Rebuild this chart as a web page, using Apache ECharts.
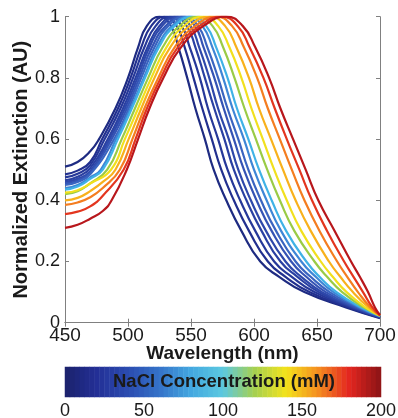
<!DOCTYPE html>
<html>
<head>
<meta charset="utf-8">
<script src="https://cdn.jsdelivr.net/npm/echarts@6/dist/echarts.min.js"></script>
<style>
html,body{margin:0;padding:0;background:#fff;}
#chart{width:398px;height:418px;}
</style>
</head>
<body>
<div id="chart"></div>
<script>
// Wavelength axis and extinction ticks
const wavelengthTicks = [450, 500, 550, 600, 650, 700];
const extinctionTicks = [0, 0.2, 0.4, 0.6, 0.8, 1];
const concentrationTicks = [0, 50, 100, 150, 200];

// Spectra: [wavelength (nm), normalized extinction], increasing NaCl concentration
const c0 = [[450,.51],[460,.525],[470,.56],[477,.6],[490,.7],[500,.8],[508,.9],[515,.97],[525,1],[534,.97],[540,.9],[547,.8],[553.5,.7],[561,.6],[568,.5],[578,.4],[590,.3],[605,.2],[620,.15],[640,.1],[673,.05],[700,.015]];
const c1 = [[450,.485],[460,.497],[470,.525],[479.5,.6],[492,.7],[502,.8],[510.5,.9],[518.5,.97],[529,1],[538.5,.97],[545,.9],[552,.8],[559,.7],[566.5,.6],[574,.5],[584,.4],[596,.3],[611,.2],[625,.15],[644,.1],[675,.05],[700,.016]];
const c2 = [[450,.475],[460,.487],[470,.515],[481.5,.6],[494,.7],[504,.8],[513,.9],[522,.97],[533,1],[542.5,.97],[549,.9],[557,.8],[563.5,.7],[571.5,.6],[579,.5],[589,.4],[601,.3],[616,.2],[630,.15],[648,.1],[677,.05],[700,.017]];
const c3 = [[450,.465],[460,.477],[470,.505],[484,.6],[496,.7],[506,.8],[515.5,.9],[525,.97],[536.5,1],[546.5,.97],[553.5,.9],[561,.8],[568.5,.7],[576.5,.6],[584,.5],[594,.4],[606,.3],[621,.2],[634.5,.15],[651.5,.1],[678.5,.05],[700,.018]];
const c4 = [[450,.46],[460,.47],[470,.495],[485.5,.6],[497.5,.7],[507.5,.8],[517,.9],[527,.97],[539.5,1],[549.5,.97],[556.5,.9],[564.5,.8],[571.5,.7],[580,.6],[587.5,.5],[597.5,.4],[609.5,.3],[625,.2],[637.5,.15],[654,.1],[679.5,.05],[700,.019]];
const c5 = [[450,.455],[460,.465],[470,.49],[487,.6],[499,.7],[509,.8],[519,.9],[530,.97],[542.5,1],[553,.97],[560,.9],[568.5,.8],[576,.7],[584,.6],[592,.5],[602,.4],[614,.3],[629.5,.2],[641.5,.15],[657,.1],[681,.05],[700,.02]];
const c6 = [[450,.45],[460,.46],[470,.485],[489,.6],[500.5,.7],[510.5,.8],[521,.9],[532,.97],[545,1],[555.5,.97],[563,.9],[571.5,.8],[579,.7],[587.5,.6],[595.5,.5],[605.5,.4],[617.5,.3],[633,.2],[645,.15],[660,.1],[682.5,.05],[700,.021]];
const c7 = [[450,.44],[460,.45],[470,.475],[478.5,.5],[490.5,.6],[502,.7],[512.5,.8],[523,.9],[535,.97],[548.5,1],[559,.97],[567,.9],[575.5,.8],[583,.7],[592,.6],[600,.5],[610,.4],[621.5,.3],[637.5,.2],[649,.15],[663,.1],[684,.05],[700,.022]];
const c8 = [[450,.435],[460,.445],[470,.47],[480,.5],[492,.6],[503,.7],[513.5,.8],[524.5,.9],[537,.97],[551,1],[562,.97],[570,.9],[579,.8],[586.5,.7],[595.5,.6],[604,.5],[614,.4],[625.5,.3],[641.5,.2],[652,.15],[665.5,.1],[685,.05],[700,.022]];
const c9 = [[450,.42],[460,.43],[470,.455],[483.5,.5],[495,.6],[505.5,.7],[516,.8],[527.5,.9],[541,.97],[555.5,1],[567,.97],[575.5,.9],[584.5,.8],[592.5,.7],[601.5,.6],[610.5,.5],[620.5,.4],[632,.3],[648,.2],[658,.15],[670,.1],[687,.05],[700,.023]];
const c10 = [[450,.425],[460,.433],[470,.455],[486.5,.5],[497.5,.6],[508,.7],[518.5,.8],[530.5,.9],[544.5,.97],[560,1],[571.5,.97],[580.5,.9],[590,.8],[598,.7],[607,.6],[616,.5],[626,.4],[637.5,.3],[653,.2],[662.5,.15],[673.5,.1],[688.5,.05],[700,.023]];
const c11 = [[450,.4],[460,.408],[470,.43],[480,.46],[490,.5],[500.5,.6],[510.5,.7],[521,.8],[533.5,.9],[549,.97],[565,1],[577,.97],[586,.9],[596,.8],[604,.7],[613.5,.6],[623,.5],[633,.4],[645,.3],[659.5,.2],[668.5,.15],[678.5,.1],[691,.05],[700,.024]];
const c12 = [[450,.385],[460,.393],[470,.41],[480,.44],[493.5,.5],[503.5,.6],[513,.7],[524,.8],[537,.9],[553.5,.97],[570,1],[582.5,.97],[592,.9],[602.5,.8],[611,.7],[620.5,.6],[630,.5],[640,.4],[652,.3],[666,.2],[674,.15],[682.5,.1],[692.5,.05],[700,.024]];
const c13 = [[450,.355],[460,.363],[470,.38],[480,.415],[496.5,.5],[506,.6],[515,.7],[526,.8],[539.5,.9],[557,.97],[574,1],[587,.97],[596.5,.9],[607.5,.8],[616.5,.7],[626,.6],[636,.5],[646,.4],[658,.3],[671.5,.2],[679,.15],[686.5,.1],[694,.05],[700,.024]];
const c14 = [[450,.31],[460,.32],[470,.34],[480,.365],[487,.4],[499,.5],[508,.6],[517,.7],[528,.8],[542,.9],[560,.97],[578,1],[591,.97],[601,.9],[612,.8],[621,.7],[631,.6],[641,.5],[651,.4],[664,.3],[677,.2],[684,.15],[690.5,.1],[696,.05],[700,.025]];
const spectra = [c0,c1,c2,c3,c4,c5,c6,c7,c8,c9,c10,c11,c12,c13,c14];

// styles
const curveColors = ['#1e2b82','#22308f','#263899','#2a40a2','#2e48aa','#3553b4','#3a64c0','#3e86d6','#40b2e6','#9acb46','#f1e01e','#f8b11c','#f47d20','#e3361f','#b8171c'];
const colormap = ['#1b226b','#232f96','#2b4cb0','#3573c9','#43a8e0','#5cc8e0','#a5d050','#f3e31c','#f59020','#e3251f','#8b1416'];

// colorbar sampling of the concentration range (colormap cells)
const concMax = 200, cbCells = 64;
const cbCategories = [], cbData = [];
for (let i = 0; i < cbCells; i++) {
  cbCategories.push(String(i));
  cbData.push([i, 0, (i + 0.5) * concMax / cbCells]);
}

const FONT = 'Liberation Sans, Arial, Helvetica, sans-serif';
const axisGray = '#808080';
const txt = '#1a1a1a';

const chart = echarts.init(document.getElementById('chart'), null, {renderer: 'canvas'});

const lineSeries = spectra.map((d, i) => ({
  type: 'line',
  xAxisIndex: 0,
  yAxisIndex: 0,
  data: d,
  smooth: 0.5,
  showSymbol: false,
  symbol: 'none',
  silent: true,
  lineStyle: {color: curveColors[i], width: 2.2},
  z: 2
}));

const option = {
  animation: false,
  backgroundColor: '#fff',
  textStyle: {fontFamily: FONT},
  grid: [
    {left: 65, right: 18, top: 16.7, bottom: 95.3, containLabel: false, outerBoundsMode: 'none'},
    {left: 65, right: 17, top: 367, height: 30, containLabel: false, outerBoundsMode: 'none'}
  ],
  visualMap: {
    show: false,
    type: 'continuous',
    seriesIndex: spectra.length,
    dimension: 2,
    min: 0,
    max: concMax,
    inRange: {color: colormap}
  },
  xAxis: [
    {
      type: 'value', gridIndex: 0, min: wavelengthTicks[0], max: wavelengthTicks[wavelengthTicks.length - 1], interval: 50,
      position: 'bottom',
      axisLine: {show: true, lineStyle: {color: axisGray, width: 1}},
      axisTick: {show: true, inside: true, length: 4, lineStyle: {color: axisGray}},
      axisLabel: {fontSize: 19, color: txt, margin: 4, fontFamily: FONT},
      splitLine: {show: false},
      name: 'Wavelength (nm)', nameLocation: 'middle', nameGap: 22, nameMoveOverlap: false,
      nameTextStyle: {fontSize: 19, fontWeight: 'bold', color: txt, fontFamily: FONT}
    },
    {
      type: 'value', gridIndex: 0, min: 450, max: 700, interval: 50, position: 'top',
      axisLine: {show: true, lineStyle: {color: axisGray, width: 1}},
      axisTick: {show: true, inside: true, length: 4, lineStyle: {color: axisGray}},
      axisLabel: {show: false}, splitLine: {show: false}
    },
    {
      type: 'category', gridIndex: 1, data: cbCategories, position: 'top', show: false
    },
    {
      type: 'value', gridIndex: 1, min: concentrationTicks[0], max: concentrationTicks[concentrationTicks.length - 1], interval: 50,
      position: 'bottom',
      axisLine: {show: false}, axisTick: {show: false}, splitLine: {show: false},
      axisLabel: {fontSize: 18, color: txt, margin: 5, fontFamily: FONT}
    }
  ],
  yAxis: [
    {
      type: 'value', gridIndex: 0, min: extinctionTicks[0], max: extinctionTicks[extinctionTicks.length - 1], interval: 0.2,
      position: 'left',
      axisLine: {show: true, lineStyle: {color: axisGray, width: 1}},
      axisTick: {show: true, inside: true, length: 4, lineStyle: {color: axisGray}},
      axisLabel: {fontSize: 18, color: txt, margin: 5, fontFamily: FONT},
      splitLine: {show: false},
      name: 'Normalized Extinction (AU)', nameLocation: 'middle', nameGap: 34, nameRotate: 90, nameMoveOverlap: false,
      nameTextStyle: {fontSize: 20, fontWeight: 'bold', color: txt, fontFamily: FONT}
    },
    {
      type: 'value', gridIndex: 0, min: 0, max: 1, interval: 0.2, position: 'right',
      axisLine: {show: true, lineStyle: {color: axisGray, width: 1}},
      axisTick: {show: true, inside: true, length: 4, lineStyle: {color: axisGray}},
      axisLabel: {show: false}, splitLine: {show: false}
    },
    {
      type: 'category', gridIndex: 1, data: ['NaCl'], show: false
    }
  ],
  graphic: [{
    type: 'text',
    x: 224, y: 381.5,
    z: 100,
    style: {
      text: 'NaCl Concentration (mM)',
      font: 'bold 18.5px ' + FONT,
      fill: txt,
      align: 'center',
      verticalAlign: 'middle'
    }
  }],
  series: lineSeries.concat([{
    type: 'heatmap',
    xAxisIndex: 2,
    yAxisIndex: 2,
    data: cbData,
    silent: true,
    itemStyle: {borderWidth: 0},
    progressive: 0
  }])
};

chart.setOption(option);
</script>
</body>
</html>
